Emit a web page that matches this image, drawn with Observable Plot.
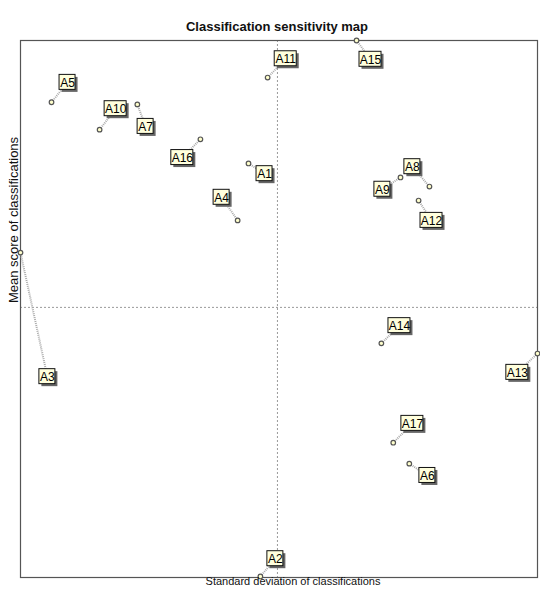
<!DOCTYPE html>
<html>
<head>
<meta charset="utf-8">
<script src="https://cdn.jsdelivr.net/npm/d3@7"></script>
<script src="https://cdn.jsdelivr.net/npm/@observablehq/plot@0.6"></script>
<style>
  html, body { margin: 0; padding: 0; background: #fff; }
</style>
</head>
<body>
<div id="chart"></div>
<script>
// Alternatives and their position on the sensitivity map (normalised units, no ticks shown)
const names  = ["A1","A2","A3","A4","A5","A6","A7","A8","A9","A10","A11","A12","A13","A14","A15","A16","A17"];
const stdDev = [0.441,0.464,0.000,0.420,0.060,0.752,0.226,0.791,0.735,0.153,0.478,0.770,1.000,0.698,0.650,0.348,0.721];
const meanScore = [0.771,0.002,0.605,0.665,0.885,0.212,0.881,0.728,0.745,0.834,0.931,0.702,0.417,0.436,1.000,0.816,0.251];
// label anchor positions (same units)
const labelX = [0.472,0.493,0.052,0.389,0.091,0.787,0.242,0.758,0.700,0.184,0.513,0.795,0.961,0.733,0.677,0.313,0.758];
const labelY = [0.752,0.035,0.374,0.708,0.922,0.190,0.840,0.765,0.723,0.873,0.966,0.665,0.382,0.469,0.965,0.782,0.287];
// reference cross (means)
const centerX = 0.497;
const centerY = 0.503;

const titleText = "Classification sensitivity map";
const xLabel = "Standard deviation of classifications";
const yLabel = "Mean score of classifications";

const data = names.map((n, i) => ({name: n, x: stdDev[i], y: meanScore[i], lx: labelX[i], ly: labelY[i]}));
const short = data.filter(d => d.name.length <= 2);
const long = data.filter(d => d.name.length > 2);

const font = "'Liberation Sans', Arial, sans-serif";

function box(arr, w, opts) {
  return Plot.rect(arr, {
    x1: "lx", x2: "lx", y1: "ly", y2: "ly",
    insetLeft: -w/2, insetRight: -w/2, insetTop: -7.5, insetBottom: -7.5,
    ...opts
  });
}

const chart = Plot.plot({
  width: 540,
  height: 590,
  marginLeft: 20,
  marginRight: 3,
  marginTop: 40,
  marginBottom: 13,
  x: {domain: [0, 1], axis: null},
  y: {domain: [0, 1], axis: null},
  style: {fontFamily: font, background: "#fff"},
  marks: [
    Plot.ruleX([centerX], {stroke: "#999", strokeDasharray: "2,2", strokeWidth: 1}),
    Plot.ruleY([centerY], {stroke: "#999", strokeDasharray: "2,2", strokeWidth: 1}),
    Plot.frame({stroke: "#555", strokeWidth: 1.2}),
    Plot.link(data, {x1: "x", y1: "y", x2: "lx", y2: "ly", stroke: "#aaa", strokeWidth: 2, strokeDasharray: "1,1"}),
    Plot.dot(data, {x: "x", y: "y", r: 2.3, fill: "#ffffcc", stroke: "#555", strokeWidth: 1.2}),
    box(short, 16, {fill: "#666", dx: 2.5, dy: 2.5}),
    box(long, 22, {fill: "#666", dx: 2.5, dy: 2.5}),
    box(short, 16, {fill: "#ffffdd", stroke: "#111", strokeWidth: 1}),
    box(long, 22, {fill: "#ffffdd", stroke: "#111", strokeWidth: 1}),
    Plot.text(data, {x: "lx", y: "ly", text: "name", fontSize: 12, fill: "#000", dy: 0.5}),
    Plot.text([titleText], {frameAnchor: "top", dy: -19, dx: -2, fontSize: 13, fontWeight: "bold", fill: "#111"}),
    Plot.text([xLabel], {frameAnchor: "bottom", dy: 7, dx: 14, fontSize: 11, fill: "#111"}),
    Plot.text([yLabel], {frameAnchor: "left", textAnchor: "middle", rotate: -90, dx: -7, dy: -89, fontSize: 13, fill: "#111"})
  ]
});
document.getElementById("chart").appendChild(chart);
</script>
</body>
</html>
